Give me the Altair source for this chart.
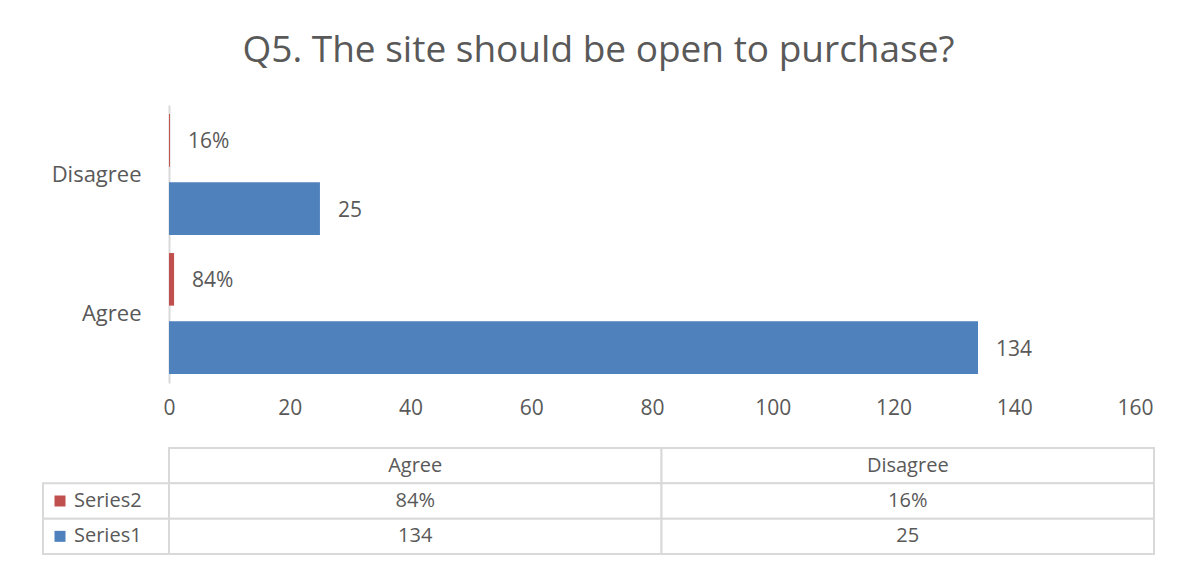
import altair as alt
import pandas as pd

# ---- data ----
categories = ["Agree", "Disagree"]
series_names = ["Series1", "Series2"]
series1_values = [134, 25]
series2_values = [0.84, 0.16]
x_ticks = [0, 20, 40, 60, 80, 100, 120, 140, 160]
title_text = "Q5. The site should be open to purchase?"

BLUE = "#4F81BD"
RED = "#C0504D"
TEXT = "#595959"
GRID = "#D9D9D9"
FONT = "Open Sans"

rows = []
for c, v in zip(categories, series1_values):
    rows.append({"category": c, "series": "Series1", "value": v, "label": f"{v}"})
for c, v in zip(categories, series2_values):
    rows.append({"category": c, "series": "Series2", "value": v, "label": f"{v:.0%}"})
df = pd.DataFrame(rows)

color = alt.Color("series:N", scale=alt.Scale(domain=series_names, range=[BLUE, RED]), legend=None)

y = alt.Y(
    "category:N",
    sort=["Disagree", "Agree"],
    scale=alt.Scale(paddingInner=0.13, paddingOuter=0.065),
    axis=alt.Axis(
        title=None, labelFontSize=22, labelColor=TEXT, labelFont=FONT,
        labelPadding=28, ticks=False, domainColor=GRID, domainWidth=2,
        minExtent=127, maxExtent=127, labelLimit=0,
    ),
)
yoff = alt.YOffset("series:N", sort=["Series2", "Series1"],
                   scale=alt.Scale(paddingInner=0.23, paddingOuter=0))
x = alt.X(
    "value:Q",
    scale=alt.Scale(domain=[0, 160]),
    axis=alt.Axis(
        title=None, values=x_ticks, grid=False, domain=False, ticks=False,
        labelFontSize=21, labelColor=TEXT, labelFont=FONT, labelPadding=14,
        labelFlush=False,
    ),
)

bars = alt.Chart(df).mark_bar().encode(x=x, y=y, yOffset=yoff, color=color)
labels = alt.Chart(df).mark_text(
    align="left", baseline="middle", dx=18, dy=2, fontSize=21, font=FONT, color=TEXT
).encode(x="value:Q", y=alt.Y("category:N", sort=["Disagree", "Agree"]), yOffset=yoff, text="label:N")

top = (bars + labels).properties(width=966, height=278)

# ---- data table ----
table_rows = ["header", "Series2", "Series1"]
cells = []
for c in categories:
    cells.append({"row": "header", "col": c, "text": c})
for c, v in zip(categories, series2_values):
    cells.append({"row": "Series2", "col": c, "text": f"{v:.0%}"})
for c, v in zip(categories, series1_values):
    cells.append({"row": "Series1", "col": c, "text": f"{v}"})
cells_df = pd.DataFrame(cells)

ty = alt.Y("row:N", sort=table_rows, axis=None,
           scale=alt.Scale(domain=table_rows, paddingInner=0, paddingOuter=0))
tx = alt.X("col:N", sort=categories, axis=None, scale=alt.Scale(paddingInner=0, paddingOuter=0))

cell_rects = alt.Chart(cells_df).mark_rect(fill="white", stroke=GRID, strokeWidth=2).encode(x=tx, y=ty)
cell_text = alt.Chart(cells_df).mark_text(fontSize=20, font=FONT, color=TEXT, baseline="middle").encode(
    x=tx, y=ty, text="text:N")

# legend column sits to the left of the value cells (its own x scale)
legend_df = pd.DataFrame({"row": ["Series2", "Series1"], "col": ["", ""], "series": ["Series2", "Series1"]})
lscale = alt.Scale(range=[-126, 0], paddingInner=0, paddingOuter=0)
lx = alt.X("col:N", axis=None, scale=lscale)
lx0 = alt.X("col:N", axis=None, scale=lscale, bandPosition=0)
leg_rects = alt.Chart(legend_df).mark_rect(fill="white", stroke=GRID, strokeWidth=2).encode(x=lx, y=ty)
leg_sq = alt.Chart(legend_df).mark_square(size=121, xOffset=17, opacity=1).encode(x=lx0, y=ty, color=color)
leg_text = alt.Chart(legend_df).mark_text(
    align="left", dx=31, fontSize=20, font=FONT, color=TEXT, baseline="middle"
).encode(x=lx0, y=ty, text="series:N")

legend_layer = alt.layer(leg_rects, leg_sq, leg_text)
values_layer = alt.layer(cell_rects, cell_text)
table = alt.layer(values_layer, legend_layer).resolve_scale(x="independent").properties(width=985, height=106)

chart = alt.vconcat(top, table, spacing=29).properties(
    title=alt.TitleParams(title_text, fontSize=37, font=FONT, color=TEXT, fontWeight="normal",
                          anchor="middle", offset=35, frame="bounds"),
    padding={"left": 34, "top": 24, "right": 10, "bottom": 10},
    background="white",
).configure_view(stroke="transparent", strokeWidth=0)

chart.save("out.html", embed_options={"renderer": "svg", "actions": False})
